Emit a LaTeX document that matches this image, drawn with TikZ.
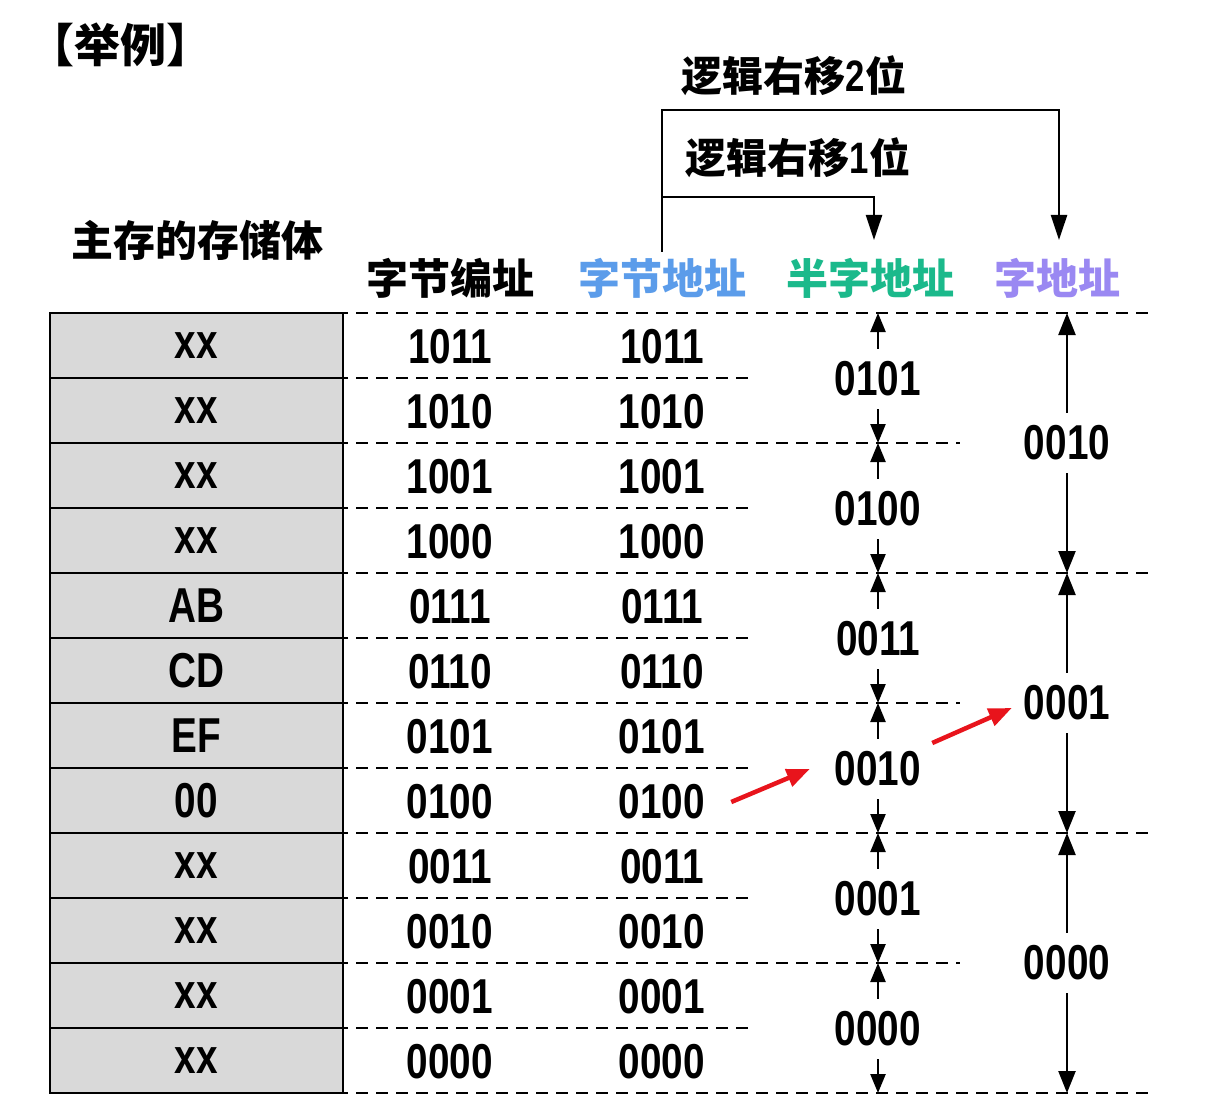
\documentclass[tikz,border=0pt]{standalone}
\usepackage{fontspec}
\setmainfont{Liberation Sans}
\newfontfamily\cjkfont{Noto Sans CJK SC}
\newfontfamily\numfont[FakeStretch=0.79]{Liberation Sans}
\usetikzlibrary{arrows.meta}
\definecolor{gbox}{HTML}{D9D9D9}
\definecolor{cblue}{HTML}{5B9CEA}
\definecolor{cgreen}{HTML}{1BB98B}
\definecolor{cpurp}{HTML}{9A88F2}
\definecolor{cred}{HTML}{E8141C}
\newcommand\numtxt{\numfont\bfseries\fontsize{49pt}{50pt}\selectfont}
\newcommand\cjktxt[1]{\cjkfont\bfseries\fontsize{#1}{#1}\selectfont}
\begin{document}
\begin{tikzpicture}[x=1pt,y=-1pt,
  cell/.style={draw,line width=2.8pt,fill=gbox,minimum width=293pt,minimum height=65pt,inner sep=0pt,font=\numtxt},
  numlab/.style={inner sep=0pt,font=\numtxt},
  spanlab/.style={inner sep=0pt,minimum height=60pt,font=\numtxt},
  head/.style={inner sep=0pt,font=\cjktxt{42pt}},
  dline/.style={line width=2.3pt,dash pattern=on 12pt off 8pt},
  arr/.style={line width=2.4pt,-{Triangle[width=15pt,length=19pt]}},
  warr/.style={line width=2.4pt,-{Triangle[width=17pt,length=22pt]}},
  shiftarr/.style={line width=2.4pt,-{Triangle[width=16pt,length=25pt]}},
  redarr/.style={line width=4.5pt,draw=cred,-{Triangle[width=18pt,length=23pt]},color=cred}]
\useasboundingbox[fill=white] (0,0) rectangle (1218,1107);

% titles
\node[inner sep=0pt,font=\cjktxt{46pt}] (title) at (120,45) {【举例】};
\node[head] (hMem) at (197,240) {主存的存储体};
\node[head] (hByteNo) at (450,278) {字节编址};
\node[head,text=cblue] (hByte) at (662,278) {字节地址};
\node[head,text=cgreen] (hHalf) at (870,278) {半字地址};
\node[head,text=cpurp] (hWord) at (1057,278) {字地址};

% memory cells
\foreach \t [count=\i from 0] in {xx,xx,xx,xx,AB,CD,EF,00,xx,xx,xx,xx}
  \node[cell] (m\i) at (196.5,345.5+65*\i) {\t};

% dashed boundary lines
\foreach \k in {0,4,8,12} \draw[dline] (316,313+65*\k) -- (1150,313+65*\k);
\foreach \k in {2,6,10} \draw[dline] (316,313+65*\k) -- (960,313+65*\k);
\foreach \k in {1,3,5,7,9,11} \draw[dline] (316,313+65*\k) -- (754,313+65*\k);

% byte addresses
\foreach \t [count=\i from 0] in {1011,1010,1001,1000,0111,0110,0101,0100,0011,0010,0001,0000}{
  \node[numlab] (ba\i) at (450,347+65*\i) {\t};
  \node[numlab] (bb\i) at (662,347+65*\i) {\t};
}

% half-word addresses
\foreach \k in {0,...,6} \coordinate (hb\k) at (878,313+130*\k);
\foreach \t [count=\j from 0] in {0101,0100,0011,0010,0001,0000}{
  \pgfmathtruncatemacro\nx{\j+1}
  \node[spanlab] (h\j) at (878,379+130*\j) {\t};
  \draw[arr] (h\j.north) -- (hb\j);
  \draw[arr] (h\j.south) -- (hb\nx);
}

% word addresses
\foreach \k in {0,...,3} \coordinate (wb\k) at (1067,313+260*\k);
\foreach \t [count=\j from 0] in {0010,0001,0000}{
  \pgfmathtruncatemacro\nx{\j+1}
  \node[spanlab] (w\j) at (1067,443+260*\j) {\t};
  \draw[warr] (w\j.north) -- (wb\j);
  \draw[warr] (w\j.south) -- (wb\nx);
}

% shift arrows
\coordinate (sA) at (662,252);
\coordinate (k2) at (662,110);
\coordinate (k1) at (662,197);
\coordinate (tW) at (1059,240);
\coordinate (tH) at (874,240);
\draw[shiftarr] (sA) -- (k2) -| (tW);
\draw[shiftarr] (k1) -| (tH);
\node[inner sep=0pt] (l2) at (794,76) {\cjktxt{41pt}逻辑右移{\numfont\bfseries\fontsize{44pt}{44pt}\selectfont 2}位};
\node[inner sep=0pt] (l1) at (798,158) {\cjktxt{41pt}逻辑右移{\numfont\bfseries\fontsize{44pt}{44pt}\selectfont 1}位};

% red arrows
\draw[redarr] ([xshift=26pt]bb7.east) -- ([xshift=-25pt]h3.west);
\draw[redarr] ([xshift=11pt,yshift=26pt]h3.east) -- ([xshift=-12pt,yshift=-5pt]w1.west);
\end{tikzpicture}
\end{document}
